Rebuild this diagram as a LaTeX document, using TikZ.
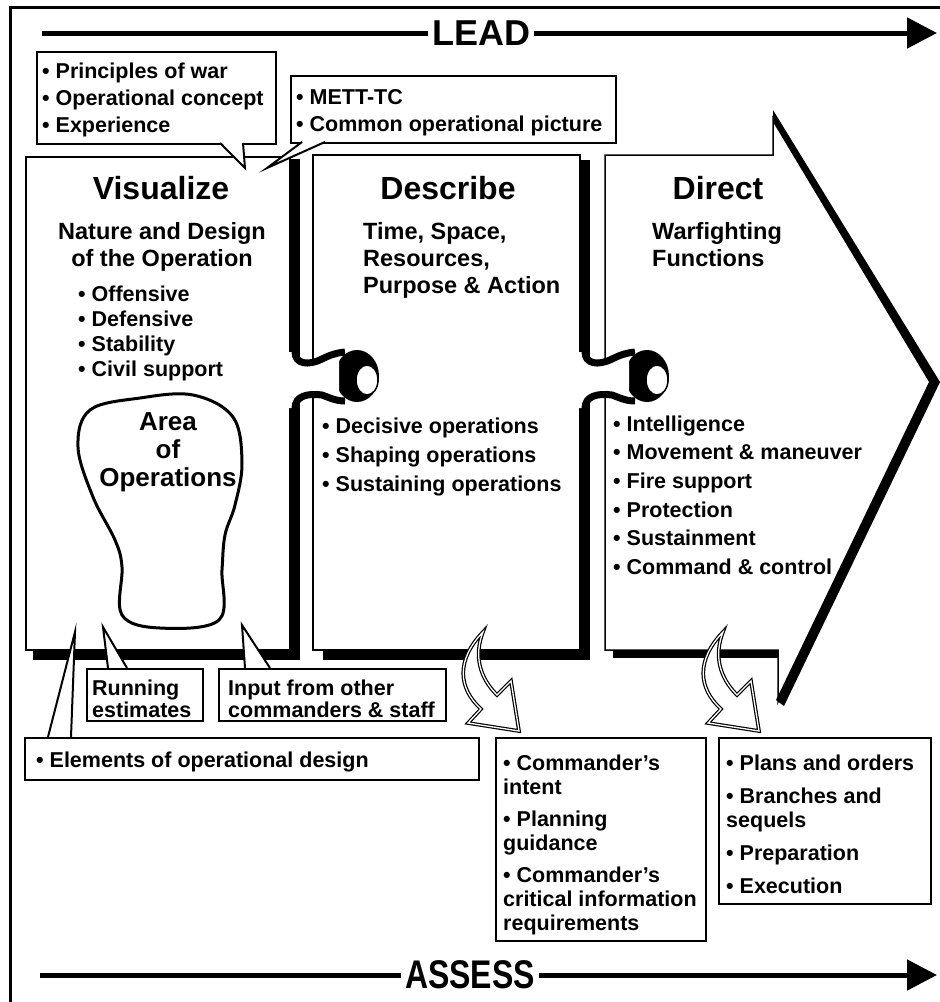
\documentclass[tikz,border=0pt]{standalone}
\usepackage{fontspec}
\setmainfont{Liberation Sans}
\newfontfamily\condfont[FakeStretch=0.8]{Liberation Sans}
\usetikzlibrary{arrows.meta}
\newcommand\myfs[2]{\fontsize{#1}{#2}\selectfont\bfseries}
\newcommand\pzknob[1]{%
  \begin{scope}[shift={(#1,0)}]
    \fill[black] (67,376) ellipse [x radius=22, y radius=26];
    \fill[white] (-1,352) -- (5,352) .. controls (5,364) and (18,366) .. (32,359)
      .. controls (38,356) and (43,354) .. (49,353) -- (49,401)
      .. controls (43,400) and (38,397) .. (32,395)
      .. controls (18,393) and (5,396) .. (5,408) -- (-1,408) -- cycle;
    \draw[line width=7pt] (5,345) -- (5,352) .. controls (5,364) and (18,366) .. (32,359)
      .. controls (38,356) and (45,353) .. (55,352);
    \draw[line width=7pt] (5,415) -- (5,408) .. controls (5,396) and (18,393) .. (32,395)
      .. controls (38,397) and (45,401) .. (55,401);
    \filldraw[fill=white, draw=black, line width=1.5pt] (77,380) ellipse [x radius=11, y radius=15];
  \end{scope}}
\newcommand\hollowarrow[1]{%
  \begin{scope}[shift={(#1,0)}]
    \filldraw[fill=white, draw=black, line width=1.2pt, double=white, double distance=1.3pt, line join=miter]
      (483,632) .. controls (456,660) and (458,688) .. (481,709) -- (468,723) -- (519,731)
      -- (511,681) -- (497,695) .. controls (479,677) and (474,655) .. (483,632) -- cycle;
  \end{scope}}
\begin{document}
\begin{tikzpicture}[x=1pt,y=-1pt,
  panel/.style={draw=black, fill=white, line width=1.5pt},
  cbox/.style={draw=black, fill=white, line width=2pt, inner sep=0pt, anchor=north west},
  txt/.style={inner sep=0pt, anchor=north west, align=left},
  tail/.style={draw=black, line width=2pt, line join=miter},
  bigline/.style={line width=5pt},
  tip/.style={-{Triangle[length=30pt,width=30pt]}}
]
\useasboundingbox (0,0) rectangle (940,1002);
% frame
\draw[line width=3pt] (10,1002) -- (10,7) -- (940,7);

% LEAD arrow
\node[font=\myfs{36}{40}, inner sep=4pt] (lead) at (481,33) {LEAD};
\coordinate (leadL) at (42,33);
\coordinate (leadR) at (937,33);
\draw[bigline] (leadL) -- (lead.west);
\draw[bigline, tip] (lead.east) -- (leadR);

% ASSESS arrow
\node[font=\condfont\fontsize{40}{42}\selectfont\bfseries, inner sep=4pt] (assess) at (470,975) {ASSESS};
\coordinate (assL) at (40,975);
\coordinate (assR) at (937,975);
\draw[bigline] (assL) -- (assess.west);
\draw[bigline, tip] (assess.east) -- (assR);

% Visualize panel
\fill[black] (33,159) rectangle (300,660);
\draw[panel] (26,157) rectangle (290,650);
% Describe panel
\fill[black] (323,160) rectangle (590,660);
\draw[panel] (313,155) rectangle (580,650);
% Direct panel
\draw[panel] (605,155) -- (773,155) -- (773,118) -- (932,382) -- (778,702) -- (778,650) -- (605,650) -- cycle;
\fill[black] (773,110) -- (940,382) -- (784,706) -- (776,700) -- (929,382) -- (773,122) -- cycle;
\fill[black] (613,650) rectangle (778,658);

% puzzle knobs
\pzknob{290}
\pzknob{580}

% panel texts
\node[font=\myfs{32}{36}] (hv) at (161,188) {Visualize};
\node[txt, anchor=north, align=center, font=\myfs{23.5}{27}] (nv) at (162,222.5) {Nature and Design\\of the Operation};
\node[txt, font=\myfs{21.5}{25}] (bv) at (78,285.5) {• Offensive\\• Defensive\\• Stability\\• Civil support};

\node[font=\myfs{32}{36}] (hd) at (448,188) {Describe};
\node[txt, font=\myfs{23.5}{27}] (nd) at (363,222.5) {Time, Space,\\Resources,\\Purpose \& Action};
\node[txt, font=\myfs{21.5}{29}] (bd) at (322,417.5) {• Decisive operations\\• Shaping operations\\• Sustaining operations};

\node[font=\myfs{32}{36}] (hr) at (718,188) {Direct};
\node[txt, font=\myfs{23.5}{27}] (nr) at (652,222.5) {Warfighting\\Functions};
\node[txt, font=\myfs{21.5}{28.6}] (br) at (613,415.5) {• Intelligence\\• Movement \& maneuver\\• Fire support\\• Protection\\• Sustainment\\• Command \& control};

% Area of operations
\draw[line width=3pt] plot[smooth cycle, tension=0.6] coordinates {(90,410) (140,398) (193,395) (233,417) (242,463) (235,505) (225,535) (222,570) (219,620) (160,628) (122,615) (122,567) (115,540) (93,497) (78,447)};
\node[txt, anchor=north, align=center, font=\myfs{26}{28}] (ao) at (168,412.6) {Area\\of\\Operations};

% top callouts
\node[cbox, minimum width=239pt, minimum height=92pt] (c1) at (36,51) {};
\node[txt, font=\myfs{21.5}{27}] (t1) at (42,62.5) {• Principles of war\\• Operational concept\\• Experience};
\coordinate (c1tip) at (245,168);
\fill[white] (221,142) -- (c1tip) -- (242,142) -- cycle;
\draw[tail] (220,143) -- (c1tip) -- (243,143);

\node[cbox, minimum width=325pt, minimum height=67pt] (c2) at (290,75) {};
\node[txt, font=\myfs{21.5}{27}] (t2) at (296,89.5) {• METT-TC\\• Common operational picture};
\coordinate (c2tip) at (267,168);
\fill[white] (302,141) -- (c2tip) -- (325,141) -- cycle;
\draw[tail] (302,142) -- (c2tip) -- (325,142);

% bottom-left callouts
\node[cbox, minimum width=454pt, minimum height=42pt] (el) at (24,737) {};
\node[txt, font=\myfs{21.5}{25}] (tel) at (36,751.5) {• Elements of operational design};
\coordinate (eltip) at (75,632);
\fill[white] (49,736) -- (eltip) -- (70,736) -- cycle;
\draw[tail] (48,737) -- (eltip) -- (71,737);

\node[cbox, minimum width=116pt, minimum height=52pt] (re) at (86,668) {};
\node[txt, font=\myfs{21.5}{22}] (tre) at (92,679.5) {Running\\estimates};
\coordinate (retip) at (103,627);
\fill[white] (109,667) -- (retip) -- (126,667) -- cycle;
\draw[tail] (108,668) -- (retip) -- (127,668);

\node[cbox, minimum width=227pt, minimum height=52pt] (in) at (218,668) {};
\node[txt, font=\myfs{21.5}{22}] (tin) at (228,679.5) {Input from other\\commanders \& staff};
\coordinate (intip) at (242,625);
\fill[white] (246,667) -- (intip) -- (269,667) -- cycle;
\draw[tail] (245,668) -- (intip) -- (270,668);

% bottom-right boxes
\node[cbox, minimum width=210pt, minimum height=203pt] (cm) at (495,737) {};
\node[txt, font=\myfs{21.5}{24}] (tcm) at (503,754.5) {• Commander’s\\intent\\[8pt]• Planning\\guidance\\[8pt]• Commander’s\\critical information\\requirements};
\node[cbox, minimum width=212pt, minimum height=166pt] (pl) at (718,737) {};
\node[txt, font=\myfs{21.5}{24}] (tpl) at (726,754.5) {• Plans and orders\\[9pt]• Branches and\\sequels\\[9pt]• Preparation\\[9pt]• Execution};

% hollow curved arrows
\hollowarrow{0}
\hollowarrow{240}
\end{tikzpicture}
\end{document}
